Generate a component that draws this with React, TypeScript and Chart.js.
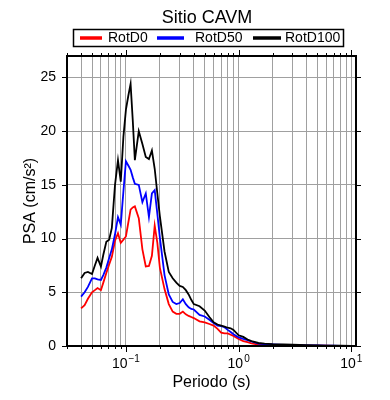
import React, { useEffect, useRef } from "react";
import { Chart, registerables } from "chart.js";

Chart.register(...registerables);

const titleText = "Sitio CAVM";
const xAxisTitle = "Periodo (s)";
const yAxisTitle = "PSA (cm/s²)";
const seriesLabels = ["RotD0", "RotD50", "RotD100"];
const seriesColors = ["#ff0000", "#0000ff", "#000000"];

const periods = [
  0.04, 0.043, 0.046, 0.05, 0.053, 0.056, 0.06, 0.063, 0.067, 0.071, 0.075, 0.08, 0.085, 0.09, 0.095,
  0.1, 0.105, 0.11, 0.115, 0.12, 0.13, 0.14, 0.15, 0.16, 0.17, 0.18, 0.19, 0.2, 0.22, 0.24, 0.26, 0.28,
  0.3, 0.32, 0.34, 0.36, 0.38, 0.4, 0.45, 0.5, 0.55, 0.6, 0.65, 0.7, 0.75, 0.8, 0.85, 0.9, 1.0, 1.1,
  1.2, 1.3, 1.5, 1.7, 2.0, 2.5, 3, 4, 5, 6, 7, 8, 10,
];

const rotD0 = [
  3.5, 3.8, 4.4, 5.0, 5.2, 5.4, 5.2, 5.9, 6.8, 7.6, 8.3, 9.8, 10.5, 9.6, 9.9,
  10.2, 11.5, 12.7, 12.9, 13.0, 11.9, 9.0, 7.4, 7.45, 8.4, 11.2, 9.6, 7.3, 5.3, 3.9, 3.2, 3.0,
  3.0, 3.2, 2.95, 2.8, 2.7, 2.6, 2.3, 2.2, 2.05, 1.9, 1.6, 1.25, 1.18, 1.18, 1.05, 0.93, 0.65, 0.45,
  0.35, 0.25, 0.12, 0.1, 0.08, 0.06, 0.05, 0.04, 0.03, 0.03, 0.02, 0.02, 0.01,
];

const rotD50 = [
  4.6, 5.0, 5.5, 6.3, 6.3, 6.2, 6.15, 6.6, 7.3, 8.2, 9.0, 10.4, 12.0, 11.3, 14.4,
  17.2, 16.8, 16.4, 15.7, 15.1, 15.0, 13.4, 14.2, 12.0, 14.2, 14.5, 12.3, 10.1, 6.6, 4.8, 4.1, 3.9,
  4.0, 4.35, 3.9, 3.6, 3.45, 3.4, 2.9, 2.75, 2.45, 2.15, 1.9, 1.85, 1.75, 1.5, 1.3, 1.1, 0.8, 0.66,
  0.55, 0.42, 0.22, 0.17, 0.14, 0.11, 0.09, 0.06, 0.05, 0.04, 0.03, 0.02, 0.02,
];

const rotD100 = [
  6.3, 6.8, 6.9, 6.7, 7.5, 8.2, 7.4, 8.5, 9.7, 9.9, 11.0, 15.0, 17.3, 15.3, 19.5,
  22.0, 23.3, 24.4, 21.0, 17.3, 20.0, 18.8, 17.6, 17.4, 18.2, 16.5, 14.2, 12.1, 8.8, 6.9, 6.3, 5.9,
  5.6, 5.5, 5.2, 4.8, 4.3, 3.9, 3.7, 3.3, 2.7, 2.2, 2.0, 1.9, 1.8, 1.7, 1.65, 1.5, 1.0, 0.85,
  0.6, 0.45, 0.28, 0.22, 0.18, 0.15, 0.12, 0.08, 0.06, 0.04, 0.03, 0.03, 0.02,
];

const yTickValues = [0, 5, 10, 15, 20, 25];
const xMajorValues = [0.1, 1, 10];
const xMajorBase = "10";
const xMajorExponents = ["−1", "0", "1"];
const xMin = 0.03;
const xMax = 11;
const yMin = 0;
const yMax = 27;

const FONT = "'Liberation Sans', Arial, Helvetica, sans-serif";

function logTickValues(min: number, max: number): number[] {
  const out: number[] = [];
  for (let e = -3; e <= 2; e++) {
    for (let m = 1; m <= 9; m++) {
      const v = parseFloat((m * Math.pow(10, e)).toPrecision(6));
      if (v >= min - 1e-9 && v <= max + 1e-9) out.push(v);
    }
  }
  return out;
}

const decorPlugin = {
  id: "gmtDecor",
  afterDraw(chart: any) {
    const { ctx, chartArea } = chart;
    const { left, right, top, bottom } = chartArea;
    const xs = chart.scales.x;
    const ys = chart.scales.y;
    ctx.save();

    // frame
    ctx.strokeStyle = "#000";
    ctx.lineWidth = 2;
    ctx.strokeRect(left, top, right - left, bottom - top);

    // x ticks (bottom & top)
    ctx.lineWidth = 1;
    for (const v of logTickValues(xMin, xMax)) {
      const px = Math.round(xs.getPixelForValue(v)) + 0.5;
      const major = xMajorValues.some((m) => Math.abs(m - v) < 1e-9);
      const len = major ? 6 : 3;
      ctx.beginPath();
      ctx.moveTo(px, bottom);
      ctx.lineTo(px, bottom + len);
      ctx.moveTo(px, top);
      ctx.lineTo(px, top - len);
      ctx.stroke();
    }
    // y ticks (left & right)
    for (const v of yTickValues) {
      const py = Math.round(ys.getPixelForValue(v)) + 0.5;
      ctx.beginPath();
      ctx.moveTo(left, py);
      ctx.lineTo(left - 5, py);
      ctx.moveTo(right, py);
      ctx.lineTo(right + 5, py);
      ctx.stroke();
    }

    // x tick labels with superscript exponents
    ctx.fillStyle = "#000";
    ctx.textBaseline = "alphabetic";
    ctx.textAlign = "left";
    for (let i = 0; i < xMajorValues.length; i++) {
      const px = xs.getPixelForValue(xMajorValues[i]);
      ctx.font = `14px ${FONT}`;
      const wb = ctx.measureText(xMajorBase).width;
      ctx.font = `10px ${FONT}`;
      const we = ctx.measureText(xMajorExponents[i]).width;
      const x0 = px - (wb + we + 1) / 2;
      ctx.font = `14px ${FONT}`;
      ctx.fillText(xMajorBase, x0, bottom + 22);
      ctx.font = `10px ${FONT}`;
      ctx.fillText(xMajorExponents[i], x0 + wb + 1, bottom + 16);
    }

    // title
    ctx.fillStyle = "#000";
    ctx.font = `18px ${FONT}`;
    ctx.textAlign = "center";
    ctx.textBaseline = "alphabetic";
    ctx.fillText(titleText, 207, 23);

    // legend box
    ctx.strokeStyle = "#000";
    ctx.lineWidth = 1.5;
    ctx.strokeRect(73.5, 29.5, 270, 17);
    const lineStarts = [80, 157, 253];
    const lineLens = [22, 27, 28];
    const textStarts = [108, 195, 285];
    ctx.font = `14px ${FONT}`;
    ctx.textAlign = "left";
    ctx.textBaseline = "middle";
    for (let i = 0; i < seriesLabels.length; i++) {
      ctx.strokeStyle = seriesColors[i];
      ctx.lineWidth = 3.5;
      ctx.beginPath();
      ctx.moveTo(lineStarts[i], 38);
      ctx.lineTo(lineStarts[i] + lineLens[i], 38);
      ctx.stroke();
      ctx.fillStyle = "#000";
      ctx.fillText(seriesLabels[i], textStarts[i], 38.5);
    }
    ctx.restore();
  },
};

export default function App() {
  const canvasRef = useRef<HTMLCanvasElement | null>(null);

  useEffect(() => {
    if (!canvasRef.current) return;
    const series = [rotD0, rotD50, rotD100];
    const chart = new Chart(canvasRef.current, {
      type: "line",
      data: {
        datasets: series.map((vals, i) => ({
          label: seriesLabels[i],
          data: periods.map((p, j) => ({ x: p, y: vals[j] })),
          borderColor: seriesColors[i],
          backgroundColor: seriesColors[i],
          borderWidth: 1.8,
          pointRadius: 0,
          tension: 0,
          fill: false,
          order: series.length - i,
        })),
      },
      options: {
        animation: false,
        responsive: false,
        devicePixelRatio: 1,
        layout: { padding: { top: 56, right: 34, left: 0, bottom: 0 } },
        plugins: {
          legend: { display: false },
          title: { display: false },
          tooltip: { enabled: false },
        },
        scales: {
          x: {
            type: "logarithmic",
            min: xMin,
            max: xMax,
            border: { display: false },
            grid: { color: "#a0a0a0", lineWidth: 1, drawTicks: false },
            afterBuildTicks: (axis: any) => {
              axis.ticks = logTickValues(xMin, xMax).map((v) => ({ value: v }));
            },
            afterFit: (axis: any) => {
              axis.height = 54;
            },
            ticks: {
              autoSkip: false,
              maxRotation: 0,
              padding: 8,
              color: "#000",
              font: { family: FONT, size: 14 },
              callback: () => "",
            },
            title: {
              display: true,
              text: xAxisTitle,
              color: "#000",
              font: { family: FONT, size: 16 },
              padding: { top: 0, bottom: 8 },
            },
          },
          y: {
            type: "linear",
            min: yMin,
            max: yMax,
            border: { display: false },
            grid: { color: "#a0a0a0", lineWidth: 1, drawTicks: false },
            afterBuildTicks: (axis: any) => {
              axis.ticks = yTickValues.map((v) => ({ value: v }));
            },
            afterFit: (axis: any) => {
              axis.width = 67;
            },
            ticks: {
              padding: 11,
              color: "#000",
              font: { family: FONT, size: 14 },
            },
            title: {
              display: true,
              text: yAxisTitle,
              color: "#000",
              font: { family: FONT, size: 16 },
              padding: { top: 21, bottom: 0 },
            },
          },
        },
      },
      plugins: [decorPlugin],
    } as any);
    return () => chart.destroy();
  }, []);

  return (
    <div style={{ position: "absolute", left: 0, top: 0, width: 390, height: 400, background: "#fff" }}>
      <canvas ref={canvasRef} width={390} height={400} style={{ width: 390, height: 400 }} />
    </div>
  );
}
